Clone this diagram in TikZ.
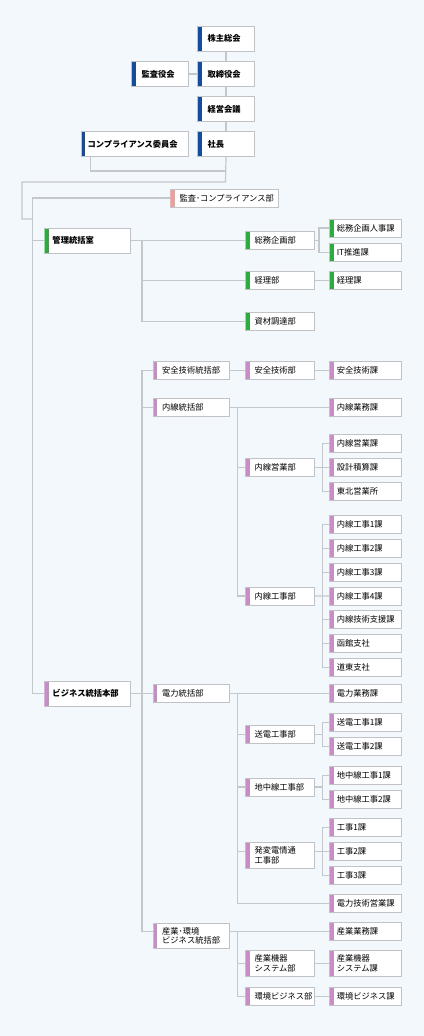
\documentclass[tikz,border=0pt]{standalone}
\usepackage{fontspec}
\setmainfont{Noto Sans CJK JP}
\usepackage{tikz}
\usetikzlibrary{calc}
\definecolor{bgblue}{RGB}{242,248,252}
\definecolor{boxline}{RGB}{192,194,198}
\definecolor{connline}{RGB}{196,200,205}
\definecolor{barblue}{RGB}{20,76,158}
\definecolor{barpink}{RGB}{242,158,152}
\definecolor{bargreen}{RGB}{42,172,62}
\definecolor{barpurple}{RGB}{200,140,200}
\tikzset{
  orgbox/.style={rectangle, draw=boxline, fill=white, line width=0.75pt,
    anchor=west, align=left, minimum height=13.5pt, inner ysep=2.9pt,
    font=\fontsize{6.2}{7.3}\selectfont},
  bar/.style={path picture={\fill[#1] (path picture bounding box.north west)
    rectangle ([xshift=3pt]path picture bounding box.south west);}},
  topbox/.style={orgbox, bar=barblue, text width=27.75pt, inner xsep=7.5pt,
    minimum height=18.75pt, font=\fontsize{6.2}{7.3}\selectfont\bfseries},
  complibox/.style={topbox, text width=70.5pt, inner xsep=4.9pt},
  kansabox/.style={orgbox, bar=barpink, text width=67.5pt, inner xsep=6.75pt},
  headbox/.style={orgbox, bar=#1, text width=52.5pt, inner xsep=6pt,
    minimum height=18.75pt, font=\fontsize{6.2}{7.3}\selectfont\bfseries},
  lvtwo/.style={orgbox, bar=#1, text width=43.5pt, inner xsep=6.75pt},
  lvthree/.style={orgbox, bar=#1, text width=38.25pt, inner xsep=6.75pt},
  lvfour/.style={orgbox, bar=#1, text width=43.5pt, inner xsep=5.25pt},
  conn/.style={draw=connline, line width=0.9pt}
}
\begin{document}
\begin{tikzpicture}[x=0.75pt, y=-0.75pt]
  \fill[bgblue] (0,0) rectangle (424,1036);
  \useasboundingbox (0,0) rectangle (424,1036);
  % columns of the vertical lines
  \coordinate (trunk) at (32.7,0);
  \coordinate (colB) at (142,0);
  \coordinate (colC) at (237.3,0);
  \coordinate (subA) at (319,0);
  \coordinate (subB) at (322.5,0);
  \coordinate (topjoin) at (225.5,182);
  \coordinate (leftbend) at (22,219);
  \coordinate (complijoin) at (225.5,171);

  % top level
  \node[topbox] (kabu) at (197,38.5) {株主総会};
  \node[topbox] (tori) at (197,74) {取締役会};
  \node[topbox] (kansayaku) at (131,74) {監査役会};
  \node[topbox] (keiei) at (197,109) {経営会議};
  \node[topbox] (shacho) at (197,144) {社長};
  \node[complibox] (compli) at (80.5,144) {コンプライアンス委員会};
  \draw[conn] (kabu) -- (tori);
  \draw[conn] (tori) -- (keiei);
  \draw[conn] (keiei) -- (shacho);
  \draw[conn] (kansayaku) -- (tori);
  \draw[conn] ([xshift=7.7pt]compli.south west) |- (complijoin);
  \draw[conn] (shacho.south) -- (topjoin) -| (leftbend) -- (leftbend -| trunk);

  \node[kansabox] (kansabu) at (170,198) {監査･コンプライアンス部};

  % kanri
  \node[headbox=bargreen] (kanri) at (44,240.5) {管理統括室};
  \node[lvthree=bargreen] (soumu) at (245,240.5) {総務企画部};
  \node[lvthree=bargreen] (keiribu) at (245,280.5) {経理部};
  \node[lvthree=bargreen] (shizai) at (245,321.5) {資材調達部};
  \node[lvfour=bargreen] (jinji) at (329.3,228) {総務企画人事課};
  \node[lvfour=bargreen] (itka) at (329.3,252.5) {IT推進課};
  \node[lvfour=bargreen] (keirika) at (329.3,280.5) {経理課};
  \draw[conn] (kanri.east) -- (soumu.west);
  \draw[conn] (kanri.east -| colB) |- (shizai.west);
  \draw[conn] (keiribu.west -| colB) -- (keiribu.west);
  \draw[conn] (soumu.east) -- (soumu.east -| subA);
  \draw[conn] (jinji.west) -- (jinji.west -| subA) -- (itka.west -| subA) -- (itka.west);
  \draw[conn] (keiribu) -- (keirika);

  % business
  \node[headbox=barpurple] (business) at (44,693.5) {ビジネス統括本部};
  \draw[conn] (kansabu.west) -- (kansabu.west -| trunk) -- (business.west -| trunk) -- (business.west);
  \draw[conn] (kanri.west -| trunk) -- (kanri.west);

  \node[lvtwo=barpurple] (anzent) at (152.7,370.7) {安全技術統括部};
  \node[lvthree=barpurple] (anzenbu) at (245,370.7) {安全技術部};
  \node[lvfour=barpurple] (anzenka) at (329.3,370.7) {安全技術課};
  \draw[conn] (anzent) -- (anzenbu);
  \draw[conn] (anzenbu) -- (anzenka);

  % naisen
  \node[lvtwo=barpurple] (naisent) at (152.7,407.5) {内線統括部};
  \node[lvfour=barpurple] (naigyomu) at (329.3,407.5) {内線業務課};
  \node[lvthree=barpurple] (naiei) at (245,467.7) {内線営業部};
  \node[lvfour=barpurple] (naieika) at (329.3,443.8) {内線営業課};
  \node[lvfour=barpurple] (sekkei) at (329.3,467.7) {設計積算課};
  \node[lvfour=barpurple] (tohoku) at (329.3,491.5) {東北営業所};
  \node[lvthree=barpurple] (naikou) at (245,596) {内線工事部};
  \foreach \i/\t in {1/内線工事1課, 2/内線工事2課, 3/内線工事3課, 4/内線工事4課,
                     5/内線技術支援課, 6/函館支社, 7/道東支社}
    \node[lvfour=barpurple] (nk\i) at (329.3, {524.8+23.75*(\i-1)}) {\t};
  \draw[conn] (naisent.west -| colB) -- (naisent.west);
  \draw[conn] (naisent.east) -- (naigyomu.west);
  \draw[conn] (naisent.east -| colC) |- (naikou.west);
  \draw[conn] (naiei.west -| colC) -- (naiei.west);
  \draw[conn] (naiei.east) -- (sekkei.west);
  \draw[conn] (naieika.west) -- (naieika.west -| subB) -- (tohoku.west -| subB) -- (tohoku.west);
  \draw[conn] (naikou.east) -- (nk4.west);
  \draw[conn] (nk1.west) -- (nk1.west -| subB) -- (nk7.west -| subB) -- (nk7.west);
  \foreach \i in {2,3,5,6}
    \draw[conn] (nk\i.west -| subB) -- (nk\i.west);

  % denryoku
  \node[lvtwo=barpurple] (denryokut) at (152.7,693.5) {電力統括部};
  \node[lvfour=barpurple] (dengyomu) at (329.3,693.5) {電力業務課};
  \node[lvthree=barpurple] (soden) at (245,734.5) {送電工事部};
  \node[lvfour=barpurple] (soden1) at (329.3,722.7) {送電工事1課};
  \node[lvfour=barpurple] (soden2) at (329.3,746.5) {送電工事2課};
  \node[lvthree=barpurple] (chichu) at (245,787) {地中線工事部};
  \node[lvfour=barpurple] (chichu1) at (329.3,775.2) {地中線工事1課};
  \node[lvfour=barpurple] (chichu2) at (329.3,799.2) {地中線工事2課};
  \node[lvthree=barpurple] (hatsu) at (245,855.5) {発変電情通\\工事部};
  \node[lvfour=barpurple] (kouji1) at (329.3,827.5) {工事1課};
  \node[lvfour=barpurple] (kouji2) at (329.3,851.5) {工事2課};
  \node[lvfour=barpurple] (kouji3) at (329.3,875.5) {工事3課};
  \node[lvfour=barpurple] (gijutsu) at (329.3,903.8) {電力技術営業課};
  \draw[conn] (business.east) -- (denryokut.west);
  \draw[conn] (denryokut.east) -- (dengyomu.west);
  \draw[conn] (denryokut.east -| colC) |- (gijutsu.west);
  \draw[conn] (soden.west -| colC) -- (soden.west);
  \draw[conn] (chichu.west -| colC) -- (chichu.west);
  \draw[conn] (colC |- kouji2.west) -- (hatsu.west |- kouji2.west);
  \draw[conn] (soden.east) -- (soden.east -| subB);
  \draw[conn] (soden1.west) -- (soden1.west -| subB) -- (soden2.west -| subB) -- (soden2.west);
  \draw[conn] (chichu.east) -- (chichu.east -| subB);
  \draw[conn] (chichu1.west) -- (chichu1.west -| subB) -- (chichu2.west -| subB) -- (chichu2.west);
  \draw[conn] (hatsu.east |- kouji2.west) -- (kouji2.west);
  \draw[conn] (kouji1.west) -- (kouji1.west -| subB) -- (kouji3.west -| subB) -- (kouji3.west);

  % sangyo
  \node[lvtwo=barpurple] (sangyot) at (152.7,935.8) {産業･環境\\ビジネス統括部};
  \node[lvfour=barpurple] (sangyogyomu) at (329.3,931.2) {産業業務課};
  \node[lvthree=barpurple] (kiki) at (245,963.5) {産業機器\\システム部};
  \node[lvfour=barpurple] (kikika) at (329.3,963.5) {産業機器\\システム課};
  \node[lvthree=barpurple] (kankyo) at (245,996.3) {環境ビジネス部};
  \node[lvfour=barpurple] (kankyoka) at (329.3,996.3) {環境ビジネス課};
  \draw[conn] (anzent.west) -- (anzent.west -| colB) -- (sangyogyomu.west -| colB) -- (sangyot.west |- sangyogyomu.west);
  \draw[conn] (sangyot.east |- sangyogyomu.west) -- (sangyogyomu.west);
  \draw[conn] (sangyogyomu.west -| colC) |- (kankyo.west);
  \draw[conn] (kiki.west -| colC) -- (kiki.west);
  \draw[conn] (kiki) -- (kikika);
  \draw[conn] (kankyo) -- (kankyoka);
\end{tikzpicture}
\end{document}
